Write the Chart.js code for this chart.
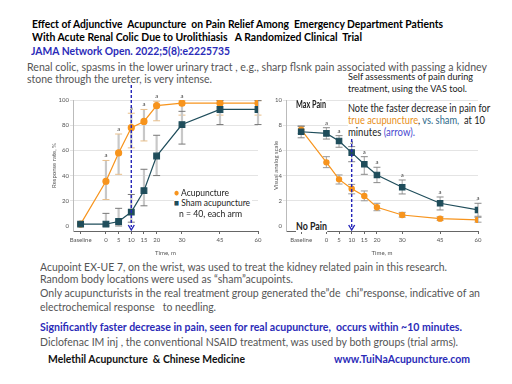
<!DOCTYPE html>
<html lang="en">
<head>
<meta charset="UTF-8">
<script src="https://cdn.jsdelivr.net/npm/chart.js"></script>
<title>Acupuncture for renal colic</title>
<style>
  body {
    margin: 0;
    width: 512px;
    height: 384px;
    background: #fff;
    position: relative;
    overflow: hidden;
    font-family: 'Lato', 'Liberation Sans', sans-serif;
  }
  .t {
    position: absolute;
    white-space: nowrap;
    line-height: 12px;
    transform-origin: 0 50%;
    display: inline-block;
  }
  .b { font-weight: bold; }
  .blue { color: #2b2bb8; }
  .gray { color: #555; }
  canvas { position: absolute; }
  #c1 { left: 20px; top: 84px; }
  #c2 { left: 268px; top: 84px; }
  .box { background: #fff; z-index: 2; }
</style>
</head>
<body>
  <div class="t b" style="left:32px;top:18px;font-size:10.5px" data-w="411">Effect of Adjunctive&nbsp; Acupuncture&nbsp; on Pain Relief Among&nbsp; Emergency Department Patients</div>
  <div class="t b" style="left:32px;top:31px;font-size:10.5px" data-w="330">With Acute Renal Colic Due to Urolithiasis&nbsp;&nbsp; A Randomized Clinical&nbsp; Trial</div>
  <div class="t b blue" style="left:31px;top:45px;font-size:10.5px" data-w="199">JAMA Network Open. 2022;5(8):e2225735</div>
  <div class="t gray" style="left:27px;top:61px;font-size:11px" data-w="460">Renal colic, spasms in the lower urinary tract , e.g., sharp flsnk pain associated with passing a kidney</div>
  <div class="t gray" style="left:27px;top:73px;font-size:11px" data-w="185">stone through the ureter, is very intense.</div>

  <div class="t" style="left:348px;top:71px;font-size:9.5px;color:#222" data-w="125">Self assessments of pain during</div>
  <div class="t" style="left:348px;top:83px;font-size:9.5px;color:#222" data-w="119">treatment, using the VAS tool.</div>

  <canvas id="c1" width="250" height="173"></canvas>
  <canvas id="c2" width="222" height="173"></canvas>

  <div class="box" style="position:absolute;left:178px;top:187px;width:74px;height:33px"></div>
  <div class="t box" style="left:174px;top:187px;font-size:9.5px;color:#222" data-w="55"><span style="color:#f7941d">&#9679;</span> Acupuncture</div>
  <div class="t box" style="left:174px;top:197px;font-size:9.5px;color:#222" data-w="76"><span style="color:#1f4d5b">&#9632;</span> Sham acupuncture</div>
  <div class="t box" style="left:179px;top:208px;font-size:9.5px;color:#222" data-w="63">n = 40, each arm</div>

  <div class="t b box" style="left:296px;top:98px;font-size:10.5px;color:#222" data-w="30">Max Pain</div>
  <div class="t b box" style="left:296px;top:220px;font-size:10.5px;color:#222" data-w="31">No Pain</div>

  <div class="t box" style="left:348px;top:102px;font-size:10.5px;color:#222" data-w="142">Note the faster decrease in pain for</div>
  <div class="t box" style="left:348px;top:114px;font-size:10.5px;color:#222" data-w="137"><span style="color:#e8901a">true acupuncture</span>, <span style="color:#2e6a8a">vs. sham,</span>&nbsp; at 10</div>
  <div class="t box" style="left:348px;top:126px;font-size:10.5px;color:#222" data-w="67">minutes <span style="color:#4b4bd0">(arrow).</span></div>

  <div class="t gray" style="left:40px;top:261px;font-size:11px" data-w="407">Acupoint EX-UE 7, on the wrist, was used to treat the kidney related pain in this research.</div>
  <div class="t gray" style="left:40px;top:273px;font-size:11px" data-w="253">Random body locations were used as &#8220;sham&#8221;acupoints.</div>
  <div class="t gray" style="left:40px;top:287px;font-size:11px" data-w="440">Only acupuncturists in the real treatment group generated the&#8221;de&nbsp; chi&#8221;response, indicative of an</div>
  <div class="t gray" style="left:40px;top:301px;font-size:11px" data-w="176">electrochemical response&nbsp;&nbsp; to needling.</div>
  <div class="t b blue" style="left:40px;top:321px;font-size:11px" data-w="422">Significantly faster decrease in pain, seen for real acupuncture,&nbsp; occurs within ~10 minutes.</div>
  <div class="t gray" style="left:40px;top:336px;font-size:11px" data-w="418">Diclofenac IM inj , the conventional NSAID treatment, was used by both groups (trial arms).</div>
  <div class="t b" style="left:48px;top:353px;font-size:11px;color:#111" data-w="197">Melethil Acupuncture&nbsp; &amp; Chinese Medicine</div>
  <div class="t b blue" style="left:334px;top:353px;font-size:11px" data-w="136">www.TuiNaAcupuncture.com</div>

<script>
// time points (baseline drawn at -10 min)
const timeVals = [-10, 0, 5, 10, 15, 20, 30, 45, 60];
const timeLabels = ['Baseline', '0', '5', '10', '15', '20', '30', '45', '60'];

// response rate, %
const respAcu = [1.5, 35.5, 58, 78, 83, 95.5, 97.5, 97.5, 97.5];
const respAcuLo = [null, 21, 41, 62, 67.5, 83.5, 88, 88, 88];
const respAcuHi = [null, 52, 73, 89.5, 92.5, 99, 99.5, 99.5, 99.5];
const respSham = [1.5, 1.5, 3.5, 11, 28, 55.5, 80.5, 92.5, 92.5];
const respShamLo = [null, 0, 0, 3, 16, 40, 65, 80.5, 80.5];
const respShamHi = [null, 10, 14, 25, 45, 72, 91, 99.5, 99.5];
const respSig = [false, true, true, true, true, true, true, false, false];
const respTicks = [0, 20, 40, 60, 80, 100];

// visual analog scale
const vasAcu = [7.65, 5.05, 3.7, 2.95, 2.38, 1.48, 0.87, 0.58, 0.48];
const vasAcuLo = [7.35, 4.63, 3.33, 2.55, 2.0, 1.21, 0.7, 0.45, 0.3];
const vasAcuHi = [7.95, 5.5, 4.05, 3.3, 2.78, 1.8, 1.08, 0.72, 0.68];
const vasSham = [7.48, 7.35, 6.75, 5.82, 4.9, 4.05, 3.07, 1.8, 1.27];
const vasShamLo = [7.0, 6.9, 6.25, 5.1, 4.1, 3.44, 2.54, 1.27, 0.77];
const vasShamHi = [7.9, 7.8, 7.17, 6.3, 5.5, 4.66, 3.65, 2.3, 1.8];
const vasSig = [false, true, true, true, true, true, true, true, true];
const vasTicks = [0, 2, 4, 6, 8, 10];

const ORANGE = '#f7941d';
const TEAL = '#1f4d5b';
const ARROW = '#2424b8';

Chart.defaults.font.family = 'Lato';
Chart.defaults.font.size = 6;
Chart.defaults.color = '#555';

function points(ys) {
    return timeVals.map((t, i) => ({ x: t, y: ys[i] }));
}

// error bars, "a" marks and the 10 min arrow
const extras = {
    id: 'extras',
    beforeDatasetsDraw(chart, args, o) {
        const ctx = chart.ctx;
        const ys = chart.scales.y;
        o.bars.forEach(b => {
            const meta = chart.getDatasetMeta(b.ds);
            meta.data.forEach((pt, i) => {
                if (b.lo[i] == null) return;
                const y1 = ys.getPixelForValue(b.lo[i]);
                const y2 = ys.getPixelForValue(b.hi[i]);
                ctx.save();
                ctx.strokeStyle = b.color;
                ctx.lineWidth = b.width;
                ctx.beginPath();
                ctx.moveTo(pt.x, y1);
                ctx.lineTo(pt.x, y2);
                ctx.stroke();
                ctx.strokeStyle = b.cap;
                ctx.lineWidth = 1;
                ctx.beginPath();
                ctx.moveTo(pt.x - 3.5, y1); ctx.lineTo(pt.x + 3.5, y1);
                ctx.moveTo(pt.x - 3.5, y2); ctx.lineTo(pt.x + 3.5, y2);
                ctx.stroke();
                ctx.restore();
            });
        });
    },
    afterDatasetsDraw(chart, args, o) {
        const ctx = chart.ctx;
        const xs = chart.scales.x, ys = chart.scales.y;
        ctx.save();
        ctx.fillStyle = '#444';
        ctx.font = '6px Lato';
        ctx.textAlign = 'center';
        ctx.textBaseline = 'bottom';
        o.sig.flags.forEach((f, i) => {
            if (!f) return;
            ctx.fillText('a', xs.getPixelForValue(timeVals[i]), ys.getPixelForValue(o.sig.hi[i]) - 2);
        });
        // dashed arrow
        const ax = xs.getPixelForValue(o.arrow.x);
        const top = o.arrow.from == null ? 1 : ys.getPixelForValue(o.arrow.from);
        const bot = chart.chartArea.bottom - 1;
        ctx.strokeStyle = ARROW;
        ctx.fillStyle = ARROW;
        ctx.lineWidth = 1.4;
        ctx.setLineDash([3, 2]);
        ctx.beginPath();
        ctx.moveTo(ax, top);
        ctx.lineTo(ax, bot - 3);
        ctx.stroke();
        ctx.setLineDash([]);
        ctx.beginPath();
        ctx.moveTo(ax - 3, bot - 5);
        ctx.lineTo(ax, bot);
        ctx.lineTo(ax + 3, bot - 5);
        ctx.stroke();
        ctx.restore();
    }
};

function makeChart(id, cfg) {
    return new Chart(document.getElementById(id), {
        type: 'line',
        data: {
            datasets: [{
                label: 'Sham acupuncture',
                data: points(cfg.sham),
                borderColor: TEAL,
                backgroundColor: TEAL,
                borderWidth: 1.2,
                pointStyle: 'rect',
                pointRadius: cfg.sq,
                tension: 0
            }, {
                label: 'Acupuncture',
                data: points(cfg.acu),
                borderColor: ORANGE,
                backgroundColor: ORANGE,
                borderWidth: 1.2,
                pointRadius: cfg.dot,
                tension: 0
            }]
        },
        plugins: [extras],
        options: {
            responsive: false,
            animation: false,
            layout: { padding: cfg.pad },
            plugins: {
                legend: { display: false },
                tooltip: { enabled: false },
                extras: {
                    bars: cfg.bars,
                    sig: cfg.sig,
                    arrow: cfg.arrow
                }
            },
            scales: {
                x: {
                    type: 'linear',
                    min: cfg.xmin,
                    max: 60,
                    afterBuildTicks: s => { s.ticks = timeVals.map(v => ({ value: v })); },
                    afterFit: s => { s.height = 26; },
                    ticks: {
                        padding: 2,
                        autoSkip: false,
                        maxRotation: 0,
                        callback: v => timeLabels[timeVals.indexOf(v)]
                    },
                    grid: { drawOnChartArea: false, tickLength: 3, color: '#666' },
                    border: { color: '#666' },
                    title: { display: true, text: 'Time, m', padding: { top: 2, bottom: 0 } }
                },
                y: {
                    min: cfg.ymin,
                    max: cfg.ticks[cfg.ticks.length - 1],
                    afterBuildTicks: s => { s.ticks = cfg.ticks.map(v => ({ value: v })); },
                    afterFit: s => { s.width = cfg.yw; },
                    ticks: { padding: 1 },
                    grid: {
                        tickLength: 3,
                        color: c => c.tick && c.tick.value === 0 ? 'rgba(0,0,0,0)' : '#e4e4e4'
                    },
                    border: { color: '#bbb' },
                    title: { display: true, text: cfg.ytitle, padding: 0 }
                }
            }
        }
    });
}

makeChart('c1', {
    acu: respAcu, sham: respSham,
    xmin: -13, ymin: -4, ticks: respTicks,
    pad: { left: 30, top: 16, right: 12, bottom: 0 }, yw: 23,
    ytitle: 'Response rate, %',
    sq: 4, dot: 3,
    bars: [
        { ds: 1, lo: respAcuLo, hi: respAcuHi, color: '#c8c8c8', width: 2.2, cap: '#e9bf8a' },
        { ds: 0, lo: respShamLo, hi: respShamHi, color: '#c8c8c8', width: 2.2, cap: '#777' }
    ],
    sig: { flags: respSig, hi: respAcuHi },
    arrow: { x: 10, from: null }
});

makeChart('c2', {
    acu: vasAcu, sham: vasSham,
    xmin: -16, ymin: -0.4, ticks: vasTicks,
    pad: { left: 4, top: 16, right: 12, bottom: 0 }, yw: 14,
    ytitle: 'Visual analog scale',
    sq: 3.8, dot: 2.6,
    bars: [
        { ds: 1, lo: vasAcuLo, hi: vasAcuHi, color: '#b0b0b0', width: 1.2, cap: '#999' },
        { ds: 0, lo: vasShamLo, hi: vasShamHi, color: '#b0b0b0', width: 1.2, cap: '#888' }
    ],
    sig: { flags: vasSig, hi: vasShamHi },
    arrow: { x: 10, from: 6.9 }
});

// squeeze each text line to the width it has on the slide
function fitLines() {
    document.querySelectorAll('[data-w]').forEach(el => {
        el.style.transform = '';
        const w = el.getBoundingClientRect().width;
        if (w > 0) el.style.transform = 'scaleX(' + (el.dataset.w / w) + ')';
    });
}
fitLines();
document.fonts.ready.then(fitLines);
</script>
</body>
</html>
